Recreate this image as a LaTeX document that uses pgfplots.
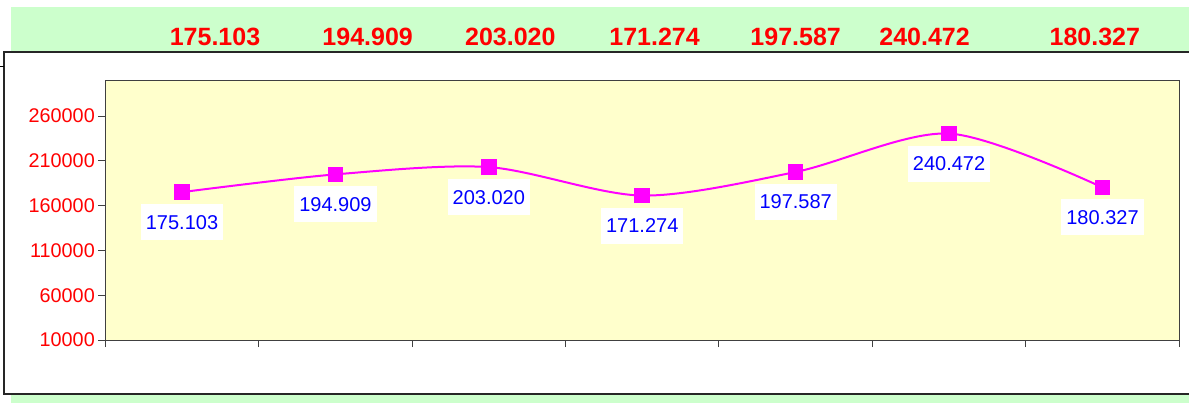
\documentclass[border=0pt]{standalone}
\usepackage{pgfplots}
\pgfplotsset{compat=1.18}
\usepackage{pgfplotstable}
\usepackage{fontspec}
\setmainfont{Liberation Sans}
\definecolor{bandgreen}{HTML}{CCFFCC}
\definecolor{plotyellow}{HTML}{FFFFCC}
\definecolor{mag}{HTML}{FF00FF}
\definecolor{axgray}{HTML}{404040}

\pgfplotstableread{
x y label
0 175103 175.103
1 194909 194.909
2 203020 203.020
3 171274 171.274
4 197587 197.587
5 240472 240.472
6 180327 180.327
}\datatable

\begin{document}
\begin{tikzpicture}
\useasboundingbox (0bp,0bp) rectangle (1189bp,403bp);
\fill[bandgreen] (11bp,351bp) rectangle (1195bp,395.5bp);
\fill[bandgreen] (11bp,-2bp) rectangle (1195bp,8bp);
\draw[line width=2bp, black!85] (4bp,9bp) rectangle (1200bp,350.5bp);
\draw[line width=1bp] (0bp,336bp) -- (4bp,336bp);
\begin{axis}[
  at={(105.3bp,63bp)}, anchor=south west, scale only axis,
  width=1074bp, height=259.3bp,
  xmin=-0.5, xmax=6.5, ymin=10000, ymax=299500,
  axis background/.style={fill=plotyellow},
  axis line style={axgray, line width=1bp},
  tick align=outside, major tick length=7bp,
  tick style={axgray, line width=1bp},
  xtick pos=left, ytick pos=left,
  xtick={-0.5,0.5,...,6.5}, xticklabels={},
  scaled y ticks=false,
  ytick={10000,60000,110000,160000,210000,260000},
  yticklabels={10000,60000,110000,160000,210000,260000},
  yticklabel style={text=red, font=\fontsize{19.8bp}{23bp}\selectfont},
  clip=false,
]
\addplot[mag, line width=2bp, smooth, tension=0.5,
  mark=square*, mark size=7.3bp, mark options={solid, fill=mag, draw=mag, line width=0pt},
  nodes near coords, point meta=explicit symbolic,
  nodes near coords style={anchor=center, yshift=-30bp, fill=white, text=blue,
    inner xsep=5bp, inner ysep=0pt, minimum height=36bp,
    font=\fontsize{20bp}{24bp}\selectfont}]
  table[x=x, y=y, meta=label] {\datatable};
\begin{scope}[every node/.style={text=red, font=\bfseries\fontsize{25bp}{30bp}\selectfont}]
\node at (axis cs:0.215,348000) {175.103};
\node at (axis cs:1.21,348000) {194.909};
\node at (axis cs:2.14,348000) {203.020};
\node at (axis cs:3.08,348000) {171.274};
\node at (axis cs:4.0,348000) {197.587};
\node at (axis cs:4.84,348000) {240.472};
\node at (axis cs:5.95,348000) {180.327};
\end{scope}
\end{axis}
\end{tikzpicture}
\end{document}
